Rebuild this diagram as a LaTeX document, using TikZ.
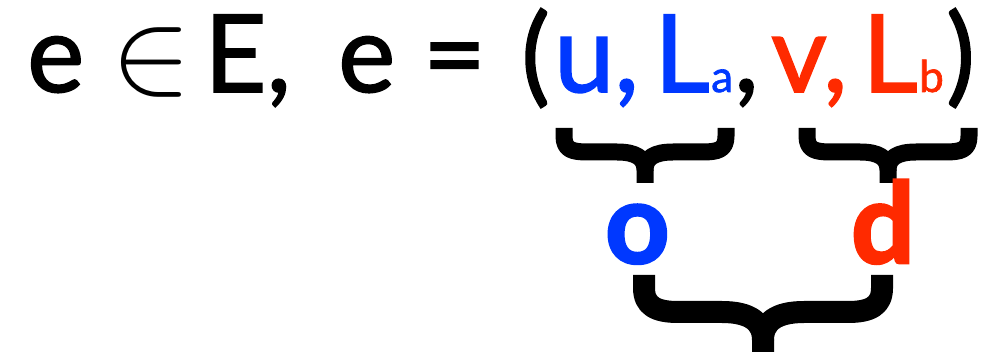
\documentclass[tikz,border=0pt]{standalone}
\usepackage{fontspec}
\setmainfont{Lato}
\newfontfamily\edgefont{Lato}[FakeBold=1.5]
\newfontfamily\heavyfont{Lato}[BoldFeatures={FakeBold=2.5}]
\usepackage{graphicx}
\definecolor{oblue}{RGB}{0,56,255}
\definecolor{dred}{RGB}{255,42,0}

\begin{document}
\begin{tikzpicture}[x=1pt, y=-1pt,
  tok/.style={anchor=base west, inner sep=0pt, font=\edgefont\fontsize{108}{110}\selectfont},
  subs/.style={tok, font=\edgefont\fontsize{44}{46}\selectfont},
  lbl/.style={tok, font=\heavyfont\fontsize{112}{114}\selectfont\bfseries},
  brc/.style={line width=17pt, line join=round},
  bigbrc/.style={line width=22pt, line join=round},
  ubrace/.pic={
    \draw[brc] (-81,0) -- (-81,8) .. controls (-81,22) and (-73,24) .. (-57,24) -- (-28,24) .. controls (-9,24) and (0,30) .. (0,42) -- (0,55);
    \draw[brc] (81,0) -- (81,8) .. controls (81,22) and (73,24) .. (57,24) -- (28,24) .. controls (9,24) and (0,30) .. (0,42);
  }]

  \useasboundingbox (0,0) rectangle (990,352);
  \clip (0,0) rectangle (990,352);

  % top line: the edge
  \node[tok] (e1) at (27,92) {e};
  \node[tok] (in) at (111,93) {\fontsize{10}{12}\selectfont\scalebox{12}{$\in$}};
  \node[tok] (E) at (204,92) {E,};
  \node[tok] (e2) at (338,92) {e};
  \node[tok] (eq) at (423,92) {=};
  \node[tok] (lp) at (521,92) {(};
  \node[tok, text=oblue] (u) at (554,92) {u,};
  \node[tok, text=oblue] (La) at (654,92) {L};
  \node[subs, text=oblue] (a) at (711,92) {a};
  \node[tok] (c2) at (734,92) {,};
  \node[tok, text=dred] (v) at (771,92) {v,};
  \node[tok, text=dred] (Lb) at (862,92) {L};
  \node[subs, text=dred] (b) at (919,92) {b};
  \node[tok] (rp) at (946,92) {)};

  % braces
  \pic at (645,128) {ubrace};
  \pic at (888,128) {ubrace};

  \node[lbl, text=oblue] (o) at (605,263) {o};
  \node[lbl, text=dred] (d) at (851,263) {d};

  \draw[bigbrc] (644,275) -- (644,288) .. controls (644,306) and (656,312) .. (678,312) -- (722,312) .. controls (750,312) and (763,322) .. (763,340) -- (763,362);
  \draw[bigbrc] (882,275) -- (882,288) .. controls (882,306) and (870,312) .. (848,312) -- (804,312) .. controls (776,312) and (763,322) .. (763,340);
\end{tikzpicture}
\end{document}
